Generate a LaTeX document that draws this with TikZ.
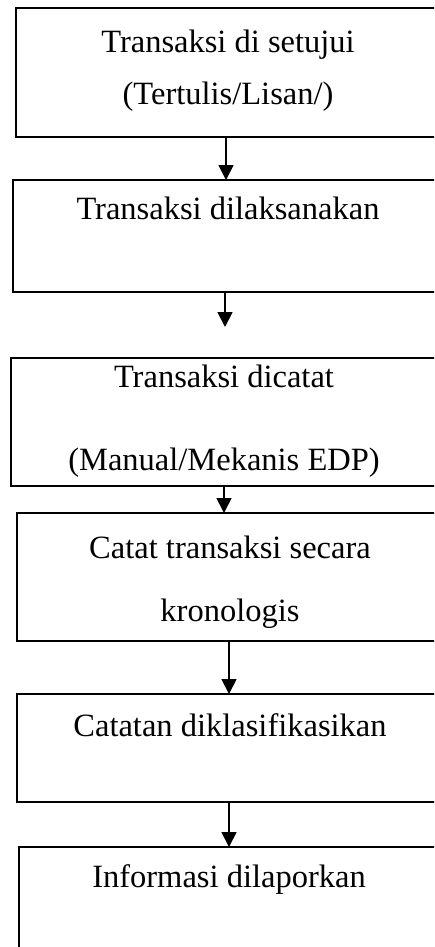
\documentclass[tikz,border=0pt]{standalone}
\usepackage{fontspec}
\setmainfont{Liberation Serif}
\usetikzlibrary{arrows.meta}
\begin{document}
\begin{tikzpicture}[x=1pt,y=-1pt,
  box/.style={draw,line width=1.8pt,rectangle,inner sep=0pt,outer sep=0pt,anchor=north west},
  txt/.style={anchor=base,inner sep=0pt,font=\fontsize{32.5}{38}\selectfont},
  arr/.style={line width=1.8pt,-{Triangle[width=15pt,length=15pt]}}]
\useasboundingbox (0,0) rectangle (434,947);
\clip (0,0) rectangle (434,947);
% boxes
\node[box,minimum width=440pt,minimum height=129pt] (b1) at (16,8) {};
\node[box,minimum width=440pt,minimum height=112pt] (b2) at (13,180) {};
\node[box,minimum width=440pt,minimum height=128pt] (b3) at (11,358) {};
\node[box,minimum width=440pt,minimum height=128pt] (b4) at (17,513) {};
\node[box,minimum width=440pt,minimum height=108pt] (b5) at (17,694) {};
\node[box,minimum width=440pt,minimum height=130pt] (b6) at (19,847) {};
% texts
\node[txt] (t1a) at (228,53) {Transaksi di setujui};
\node[txt] (t1b) at (228,105) {(Tertulis/Lisan/)};
\node[txt] (t2) at (228,219) {Transaksi dilaksanakan};
\node[txt] (t3a) at (224,387) {Transaksi dicatat};
\node[txt] (t3b) at (224,470) {(Manual/Mekanis EDP)};
\node[txt] (t4a) at (230,558) {Catat transaksi secara};
\node[txt] (t4b) at (230,621) {kronologis};
\node[txt] (t5) at (230,736) {Catatan diklasifikasikan};
\node[txt] (t6) at (229,887) {Informasi dilaporkan};
% arrows
\coordinate (a2) at (225,327);
\draw[arr] (226,0 |- b1.south) -- (226,0 |- b2.north);
\draw[arr] (225,0 |- b2.south) -- (a2);
\draw[arr] (224,0 |- b3.south) -- (224,0 |- b4.north);
\draw[arr] (229,0 |- b4.south) -- (229,0 |- b5.north);
\draw[arr] (229,0 |- b5.south) -- (229,0 |- b6.north);
\end{tikzpicture}
\end{document}
